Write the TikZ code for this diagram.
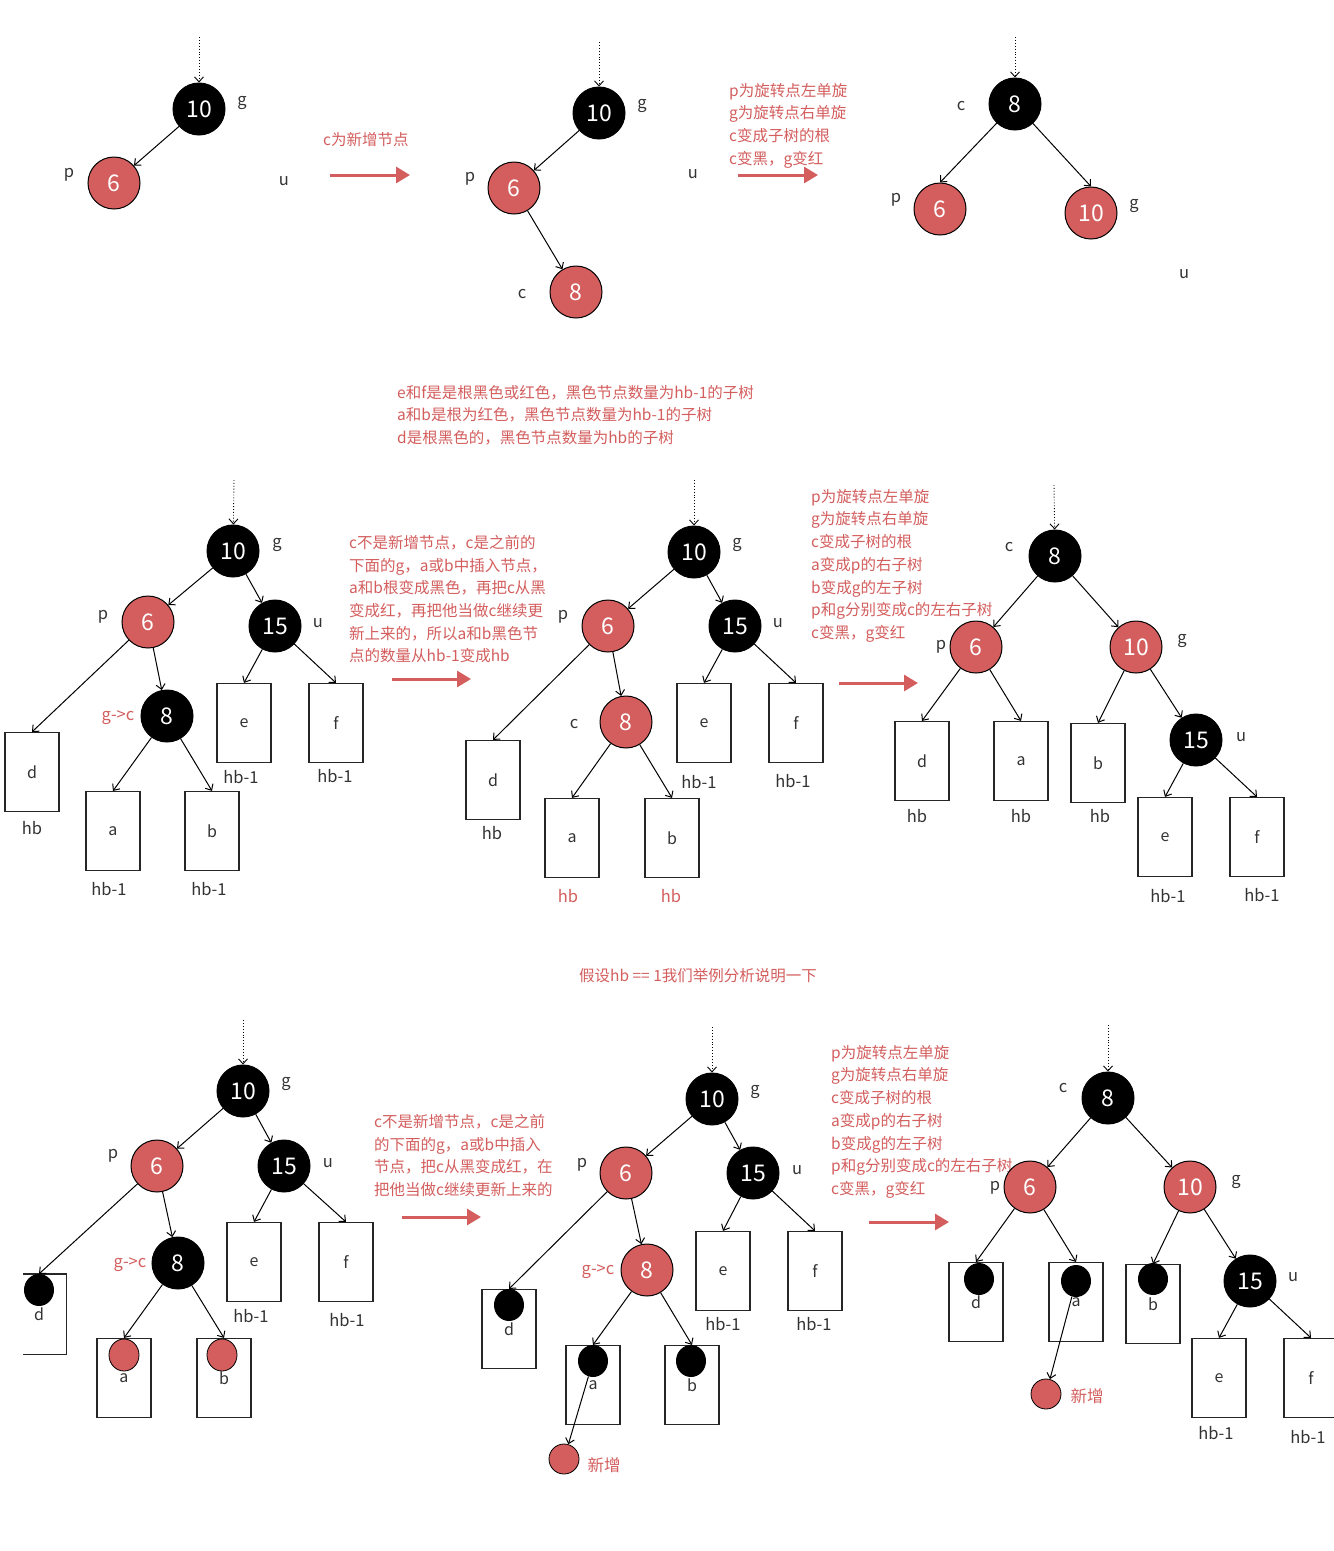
\documentclass[tikz,border=0pt]{standalone}
\usepackage{fontspec}
\setmainfont{Noto Sans CJK SC}
\usetikzlibrary{arrows.meta,shapes.geometric}
\definecolor{rbred}{RGB}{212,94,94}
\begin{document}
\begin{tikzpicture}[x=1pt,y=-1pt,
  >={Straight Barb[length=5pt,width=9pt]},
  bk/.style={circle,draw=black,line width=1pt,fill=black,text=white,minimum size=52pt,inner sep=0pt,font=\fontsize{23}{23}\selectfont},
  rd/.style={bk,fill=rbred},
  leaf/.style={draw=black!85,line width=1.2pt,minimum width=54pt,minimum height=79pt,inner sep=0pt,text=black!80,font=\fontsize{16}{16}\selectfont},
  bdot/.style={ellipse,fill=black,minimum width=30pt,minimum height=32pt,inner sep=0pt},
  rdot/.style={bdot,draw=black,line width=0.8pt,fill=rbred},
  fresh/.style={circle,draw=black,line width=0.8pt,fill=rbred,minimum size=30pt,inner sep=0pt},
  tag/.style={text=black!80,font=\fontsize{16.5}{16.5}\selectfont},
  rtag/.style={tag,text=rbred},
  note/.style={text=rbred,font=\fontsize{15.5}{22.7}\selectfont,align=left,anchor=north west,inner sep=0pt},
  lnk/.style={->,line width=1pt},
  inarrow/.style={->,dotted,line width=0.9pt},
  goarrow/.style={-{Triangle[length=14pt,width=16pt]},line width=3pt,draw=rbred}
]
\useasboundingbox[fill=white] (0,0) rectangle (1334,1551);

\coordinate (t1) at (199,37);
\node[bk] (g1) at (199,109) {10};
\node[rd] (p1) at (114,183) {6};
\node[tag] (lg1) at (242,103) {g};
\node[tag] (lp1) at (69,175) {p};
\node[tag] (lu1) at (284,181) {u};
\draw[inarrow] (t1) -- (g1);
\draw[lnk] (g1) -- (p1);
\node[note,anchor=west] (n1) at (323,140) {c为新增节点};
\coordinate (s1) at (330,175);
\coordinate (e1) at (410,175);
\draw[goarrow] (s1) -- (e1);

\coordinate (t2) at (599,42);
\node[bk] (g2) at (599,113) {10};
\node[rd] (p2) at (514,188) {6};
\node[rd] (c2) at (576,292) {8};
\node[tag] (lg2) at (642,106) {g};
\node[tag] (lp2) at (470,179) {p};
\node[tag] (lc2) at (522,294) {c};
\node[tag] (lu2) at (693,174) {u};
\draw[inarrow] (t2) -- (g2);
\draw[lnk] (g2) -- (p2);
\draw[lnk] (p2) -- (c2);
\node[note] (n2) at (729,83) {p为旋转点左单旋\\g为旋转点右单旋\\c变成子树的根\\c变黑，g变红};
\coordinate (s2) at (738,175);
\coordinate (e2) at (818,175);
\draw[goarrow] (s2) -- (e2);

\coordinate (t3) at (1015,37);
\node[bk] (c3) at (1015,104) {8};
\node[rd] (p3) at (940,209) {6};
\node[rd] (g3) at (1091,213) {10};
\node[tag] (lc3) at (961,106) {c};
\node[tag] (lp3) at (896,200) {p};
\node[tag] (lg3) at (1134,206) {g};
\node[tag] (lu3) at (1184,274) {u};
\draw[inarrow] (t3) -- (c3);
\draw[lnk] (c3) -- (p3.north);
\draw[lnk] (c3) -- (g3.north);

\node[note] (n0) at (397,385) {e和f是是根黑色或红色，黑色节点数量为hb-1的子树\\a和b是根为红色，黑色节点数量为hb-1的子树\\d是根黑色的，黑色节点数量为hb的子树};

\coordinate (t4) at (234,480);
\node[bk] (g4) at (233,551) {10};
\node[rd] (p4) at (148,622) {6};
\node[bk] (u4) at (275,626) {15};
\node[bk] (c4) at (167,716) {8};
\node[leaf] (d4) at (32,772) {d};
\node[leaf] (a4) at (113,831) {a};
\node[leaf] (b4) at (212,831) {b};
\node[leaf] (e4) at (244,723) {e};
\node[leaf] (f4) at (336,723) {f};
\node[tag] (lg4) at (277,545) {g};
\node[tag] (lp4) at (103,617) {p};
\node[tag] (lu4) at (318,623) {u};
\node[rtag] (lc4) at (118,718) {g->c};
\node[tag] (hd4) at (32,828) {hb};
\node[tag] (ha4) at (109,889) {hb-1};
\node[tag] (hb4) at (209,889) {hb-1};
\node[tag] (he4) at (241,777) {hb-1};
\node[tag] (hf4) at (335,776) {hb-1};
\draw[inarrow] (t4) -- (g4);
\draw[lnk] (g4) -- (p4);
\draw[lnk] (g4) -- (u4);
\draw[lnk] (p4) -- (d4.north);
\draw[lnk] (p4) -- (c4);
\draw[lnk] (c4) -- (a4.north);
\draw[lnk] (c4) -- (b4.north);
\draw[lnk] (u4) -- (e4.north);
\draw[lnk] (u4) -- (f4.north);
\node[note] (n4) at (349,535) {c不是新增节点，c是之前的\\下面的g，a或b中插入节点，\\a和b根变成黑色，再把c从黑\\变成红，再把他当做c继续更\\新上来的，所以a和b黑色节\\点的数量从hb-1变成hb};
\coordinate (s4) at (392,679);
\coordinate (e4a) at (471,679);
\draw[goarrow] (s4) -- (e4a);

\coordinate (t5) at (694,480);
\node[bk] (g5) at (694,552) {10};
\node[rd] (p5) at (608,626) {6};
\node[bk] (u5) at (735,626) {15};
\node[rd] (c5) at (626,722) {8};
\node[leaf] (d5) at (493,780) {d};
\node[leaf] (a5) at (572,838) {a};
\node[leaf] (b5) at (672,838) {b};
\node[leaf] (e5) at (704,723) {e};
\node[leaf] (f5) at (796,723) {f};
\node[tag] (lg5) at (737,545) {g};
\node[tag] (lp5) at (563,617) {p};
\node[tag] (lu5) at (778,623) {u};
\node[tag] (lc5) at (574,724) {c};
\node[tag] (hd5) at (492,833) {hb};
\node[rtag] (ha5) at (568,896) {hb};
\node[rtag] (hb5) at (671,896) {hb};
\node[tag] (he5) at (699,782) {hb-1};
\node[tag] (hf5) at (793,781) {hb-1};
\draw[inarrow] (t5) -- (g5);
\draw[lnk] (g5) -- (p5);
\draw[lnk] (g5) -- (u5);
\draw[lnk] (p5) -- (d5.north);
\draw[lnk] (p5) -- (c5);
\draw[lnk] (c5) -- (a5.north);
\draw[lnk] (c5) -- (b5.north);
\draw[lnk] (u5) -- (e5.north);
\draw[lnk] (u5) -- (f5.north);
\node[note] (n5) at (811,489) {p为旋转点左单旋\\g为旋转点右单旋\\c变成子树的根\\a变成p的右子树\\b变成g的左子树\\p和g分别变成c的左右子树\\c变黑，g变红};
\coordinate (s5) at (839,683);
\coordinate (e5a) at (918,683);
\draw[goarrow] (s5) -- (e5a);

\coordinate (t6) at (1054,485);
\node[bk] (c6) at (1055,556) {8};
\node[rd] (p6) at (976,647) {6};
\node[rd] (g6) at (1136,647) {10};
\node[bk] (u6) at (1196,740) {15};
\node[leaf] (d6) at (922,761) {d};
\node[leaf] (a6) at (1021,761) {a};
\node[leaf] (b6) at (1098,763) {b};
\node[leaf] (e6) at (1165,837) {e};
\node[leaf] (f6) at (1257,837) {f};
\node[tag] (lc6) at (1009,547) {c};
\node[tag] (lp6) at (941,647) {p};
\node[tag] (lg6) at (1182,641) {g};
\node[tag] (lu6) at (1241,737) {u};
\node[tag] (hd6) at (917,816) {hb};
\node[tag] (ha6) at (1021,816) {hb};
\node[tag] (hb6) at (1100,816) {hb};
\node[tag] (he6) at (1168,896) {hb-1};
\node[tag] (hf6) at (1262,895) {hb-1};
\draw[inarrow] (t6) -- (c6);
\draw[lnk] (c6) -- (p6);
\draw[lnk] (c6) -- (g6);
\draw[lnk] (p6) -- (d6.north);
\draw[lnk] (p6) -- (a6.north);
\draw[lnk] (g6) -- (b6.north);
\draw[lnk] (g6) -- (u6);
\draw[lnk] (u6) -- (e6.north);
\draw[lnk] (u6) -- (f6.north);

\node[note,anchor=center] (n6) at (698,976) {假设hb == 1我们举例分析说明一下};

\coordinate (t7) at (243,1020);
\node[bk] (g7) at (243,1091) {10};
\node[rd] (p7) at (157,1166) {6};
\node[bk] (u7) at (284,1166) {15};
\node[bk] (c7) at (178,1263) {8};
\node[leaf,draw=none] (d7) at (39,1314) {d};
\draw[draw=black!85,line width=1.2pt] ([xshift=12pt]d7.north west) -| (d7.south east) -- ([xshift=12pt]d7.south west);
\node[leaf] (a7) at (124,1378) {a};
\node[leaf] (b7) at (224,1378) {b};
\node[leaf] (e7) at (254,1262) {e};
\node[leaf] (f7) at (346,1262) {f};
\node[bdot] (dd7) at (39,1290) {};
\node[rdot] (ad7) at (124,1355) {};
\node[rdot] (bd7) at (222,1355) {};
\node[tag] (lg7) at (286,1084) {g};
\node[tag] (lp7) at (113,1156) {p};
\node[tag] (lu7) at (328,1163) {u};
\node[rtag] (lc7) at (130,1265) {g->c};
\node[tag] (he7) at (251,1316) {hb-1};
\node[tag] (hf7) at (347,1320) {hb-1};
\draw[inarrow] (t7) -- (g7);
\draw[lnk] (g7) -- (p7);
\draw[lnk] (g7) -- (u7);
\draw[lnk] (p7) -- (d7.north);
\draw[lnk] (p7) -- (c7);
\draw[lnk] (c7) -- (a7.north);
\draw[lnk] (c7) -- (b7.north);
\draw[lnk] (u7) -- (e7.north);
\draw[lnk] (u7) -- (f7.north);
\node[note] (n7) at (374,1114) {c不是新增节点，c是之前\\的下面的g，a或b中插入\\节点，把c从黑变成红，在\\把他当做c继续更新上来的};
\coordinate (s7) at (402,1217);
\coordinate (e7a) at (481,1217);
\draw[goarrow] (s7) -- (e7a);

\coordinate (t8) at (712,1027);
\node[bk] (g8) at (712,1099) {10};
\node[rd] (p8) at (626,1173) {6};
\node[bk] (u8) at (753,1173) {15};
\node[rd] (c8) at (647,1270) {8};
\node[leaf] (d8) at (509,1329) {d};
\node[leaf] (a8) at (593,1385) {a};
\node[leaf] (b8) at (692,1385) {b};
\node[leaf] (e8) at (723,1271) {e};
\node[leaf] (f8) at (815,1271) {f};
\node[bdot] (dd8) at (509,1305) {};
\node[bdot] (ad8) at (593,1361) {};
\node[bdot] (bd8) at (691,1361) {};
\node[fresh] (new8) at (564,1459) {};
\node[tag] (lg8) at (755,1092) {g};
\node[tag] (lp8) at (582,1165) {p};
\node[tag] (lu8) at (797,1170) {u};
\node[rtag] (lc8) at (598,1272) {g->c};
\node[tag] (he8) at (723,1324) {hb-1};
\node[tag] (hf8) at (814,1324) {hb-1};
\node[rtag] (ln8) at (604,1465) {新增};
\draw[inarrow] (t8) -- (g8);
\draw[lnk] (g8) -- (p8);
\draw[lnk] (g8) -- (u8);
\draw[lnk] (p8) -- (d8.north);
\draw[lnk] (p8) -- (c8);
\draw[lnk] (c8) -- (a8.north);
\draw[lnk] (c8) -- (b8.north);
\draw[lnk] (u8) -- (e8.north);
\draw[lnk] (u8) -- (f8.north);
\draw[lnk] (ad8) -- (new8);
\node[note] (n8) at (831,1045) {p为旋转点左单旋\\g为旋转点右单旋\\c变成子树的根\\a变成p的右子树\\b变成g的左子树\\p和g分别变成c的左右子树\\c变黑，g变红};
\coordinate (s8) at (869,1222);
\coordinate (e8a) at (949,1222);
\draw[goarrow] (s8) -- (e8a);

\coordinate (t9) at (1108,1025);
\node[bk] (c9) at (1108,1098) {8};
\node[rd] (p9) at (1030,1187) {6};
\node[rd] (g9) at (1190,1187) {10};
\node[bk] (u9) at (1250,1281) {15};
\node[leaf] (d9) at (976,1302) {d};
\node[leaf] (a9) at (1076,1302) {a};
\node[leaf] (b9) at (1153,1304) {b};
\node[leaf] (e9) at (1219,1378) {e};
\node[leaf] (f9) at (1311,1378) {f};
\node[bdot] (dd9) at (979,1279) {};
\node[bdot] (ad9) at (1076,1281) {};
\node[bdot] (bd9) at (1153,1279) {};
\node[fresh] (new9) at (1046,1394) {};
\node[tag] (lc9) at (1063,1088) {c};
\node[tag] (lp9) at (995,1188) {p};
\node[tag] (lg9) at (1236,1182) {g};
\node[tag] (lu9) at (1293,1277) {u};
\node[tag] (he9) at (1216,1433) {hb-1};
\node[tag] (hf9) at (1308,1437) {hb-1};
\node[rtag] (ln9) at (1087,1396) {新增};
\draw[inarrow] (t9) -- (c9);
\draw[lnk] (c9) -- (p9);
\draw[lnk] (c9) -- (g9);
\draw[lnk] (p9) -- (d9.north);
\draw[lnk] (p9) -- (a9.north);
\draw[lnk] (g9) -- (b9.north);
\draw[lnk] (g9) -- (u9);
\draw[lnk] (u9) -- (e9.north);
\draw[lnk] (u9) -- (f9.north);
\draw[lnk] (ad9) -- (new9);
\end{tikzpicture}
\end{document}
